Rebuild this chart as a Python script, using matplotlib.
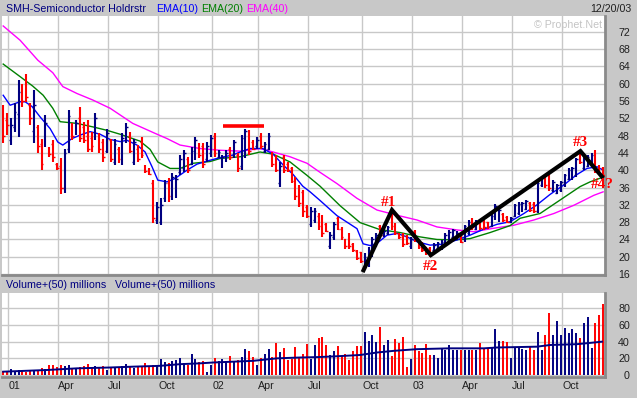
import matplotlib
matplotlib.use("Agg")
import matplotlib.pyplot as plt
import pandas as pd

plt.rcParams['font.family'] = ['Liberation Sans', 'DejaVu Sans']

# weekly bars, week ending Friday
dates = pd.date_range('2000-12-22', periods=157, freq='W-FRI')

highs = [55.0, 53.1, 52.0, 55.4, 60.8, 60.0, 62.3, 55.4, 58.5, 50.4, 47.3, 52.7, 45.4, 46.9, 41.6, 42.7,
         45.0, 53.9, 50.8, 51.6, 54.7, 51.2, 51.6, 48.9, 53.1, 48.5, 47.3, 49.5, 47.2, 47.3, 45.4, 48.5,
         50.8, 48.9, 47.3, 45.8, 47.7, 41.2, 40.4, 37.7, 32.7, 33.5, 37.7, 38.1, 39.3, 38.9, 43.5, 44.6,
         43.1, 45.4, 47.7, 46.2, 46.2, 46.5, 48.1, 48.5, 44.7, 43.5, 44.6, 45.4, 46.9, 43.9, 48.1, 49.6,
         49.3, 46.9, 47.7, 48.5, 46.5, 48.5, 44.3, 43.5, 41.9, 43.5, 41.9, 40.8, 38.5, 36.6, 35.5, 31.9,
         31.5, 31.2, 30.0, 29.6, 27.7, 25.8, 28.1, 29.2, 26.9, 24.2, 25.4, 23.1, 21.5, 21.2, 20.8, 22.3,
         24.6, 25.4, 27.3, 26.5, 27.0, 30.8, 27.7, 25.4, 25.4, 25.0, 24.6, 26.2, 23.9, 23.5, 22.3, 22.3,
         23.1, 23.5, 23.9, 25.4, 26.2, 26.5, 26.0, 25.4, 27.3, 28.5, 28.9, 28.5, 28.1, 28.5, 28.1, 30.0,
         32.3, 31.2, 30.0, 29.5, 29.2, 32.3, 32.7, 32.7, 33.1, 32.7, 32.7, 37.3, 38.5, 38.5, 38.8, 37.7,
         36.9, 37.5, 39.2, 40.4, 40.8, 42.7, 44.3, 43.9, 43.5, 43.9, 44.6, 41.2, 40.8]
lows = [46.2, 48.1, 45.8, 48.9, 47.7, 54.7, 55.8, 50.4, 46.2, 43.9, 40.0, 45.4, 43.1, 41.9, 40.0, 34.6,
        34.8, 43.9, 46.9, 48.1, 46.6, 46.2, 44.3, 44.3, 46.9, 43.9, 41.9, 44.0, 41.8, 41.2, 41.6, 41.2,
        46.2, 43.9, 41.2, 41.9, 42.7, 39.3, 38.9, 27.7, 27.5, 27.3, 32.7, 32.7, 33.1, 33.5, 38.9, 39.6,
        39.3, 41.2, 42.3, 42.7, 40.4, 42.0, 43.1, 43.1, 42.7, 40.4, 41.9, 42.3, 42.7, 39.6, 40.0, 42.7,
        43.5, 44.6, 45.0, 45.0, 43.9, 44.6, 40.8, 39.6, 36.2, 39.3, 39.6, 37.0, 33.1, 31.6, 29.2, 28.9,
        26.9, 27.7, 26.2, 24.6, 25.8, 21.9, 23.9, 26.2, 23.9, 21.9, 21.9, 21.2, 19.2, 18.5, 16.9, 17.7,
        20.0, 22.3, 24.6, 24.5, 25.0, 26.2, 25.0, 24.2, 22.3, 22.7, 21.9, 23.5, 21.9, 21.2, 20.4, 20.0,
        21.2, 21.5, 21.5, 22.3, 23.1, 23.9, 23.9, 23.1, 23.5, 25.0, 26.2, 26.2, 26.2, 26.2, 26.5, 26.9,
        28.5, 28.1, 28.1, 27.7, 27.7, 29.2, 29.6, 30.4, 30.8, 30.4, 30.0, 30.0, 36.2, 36.0, 35.3, 35.0,
        34.4, 35.0, 36.2, 37.7, 37.7, 38.5, 41.5, 40.0, 40.8, 41.2, 39.3, 38.8, 38.5]
opens = [53.0, 51.5, 47.0, 50.0, 53.0, 58.5, 61.0, 55.0, 49.0, 50.0, 46.0, 46.0, 45.0, 46.0, 41.5, 41.0,
         36.0, 45.0, 50.5, 48.5, 52.0, 50.0, 48.0, 47.5, 47.5, 48.0, 46.5, 44.5, 47.0, 42.0, 45.0, 42.5,
         47.0, 48.0, 42.0, 45.0, 46.5, 41.0, 40.2, 37.0, 28.5, 28.0, 33.5, 37.0, 34.0, 34.5, 39.5, 40.5,
         42.5, 41.5, 43.0, 46.0, 45.5, 42.5, 44.0, 48.0, 43.0, 41.0, 42.5, 45.0, 43.5, 43.5, 41.0, 44.0,
         48.5, 46.5, 45.5, 48.0, 44.5, 45.0, 44.0, 43.0, 37.0, 43.0, 41.5, 40.5, 38.0, 36.0, 35.0, 31.5,
         27.5, 28.5, 29.5, 29.0, 27.5, 22.5, 24.5, 29.0, 26.5, 24.0, 25.0, 23.0, 21.3, 21.0, 17.5, 18.5,
         21.0, 23.0, 27.0, 25.0, 25.5, 30.0, 27.5, 25.2, 25.0, 24.8, 22.5, 26.0, 23.8, 23.3, 22.2, 22.0,
         21.5, 22.0, 22.0, 22.8, 23.5, 24.5, 24.2, 25.2, 24.0, 25.5, 28.5, 26.5, 28.0, 28.2, 28.0, 27.2,
         29.0, 28.5, 29.8, 29.2, 28.0, 29.5, 30.0, 30.8, 31.0, 32.5, 32.3, 30.5, 36.5, 38.2, 38.5, 35.5,
         34.8, 35.5, 36.8, 38.0, 38.2, 39.0, 44.0, 40.5, 41.0, 41.5, 44.0, 41.0, 40.5]
closes = [48.0, 50.5, 50.5, 53.5, 58.0, 56.0, 57.0, 52.0, 55.0, 45.5, 41.5, 51.0, 43.8, 43.0, 40.5, 36.0,
          44.0, 52.5, 48.0, 51.0, 47.5, 47.0, 45.0, 45.5, 52.0, 45.0, 43.0, 48.5, 42.5, 46.0, 42.5, 47.5,
          50.0, 44.5, 46.5, 42.5, 43.5, 39.8, 39.2, 29.0, 31.5, 32.0, 37.0, 34.0, 38.5, 38.0, 42.5, 44.0,
          40.0, 44.5, 47.0, 43.5, 41.5, 45.5, 47.5, 44.0, 44.3, 43.0, 44.0, 43.0, 46.5, 40.5, 47.5, 49.0,
          44.5, 45.0, 47.0, 45.5, 46.0, 48.0, 41.5, 40.0, 41.0, 40.0, 40.0, 37.5, 34.0, 32.5, 30.5, 29.5,
          30.5, 30.5, 27.0, 25.5, 26.0, 25.0, 27.5, 26.5, 24.5, 22.5, 22.5, 21.5, 19.8, 19.0, 20.0, 21.5,
          24.0, 25.0, 25.0, 26.0, 26.8, 27.0, 25.5, 24.5, 23.0, 23.2, 24.2, 24.0, 22.2, 21.6, 20.8, 20.5,
          22.8, 23.2, 23.5, 25.0, 25.8, 26.2, 25.6, 23.5, 27.0, 28.0, 26.8, 28.0, 26.6, 26.8, 26.8, 29.5,
          31.8, 30.8, 28.5, 28.0, 29.0, 32.0, 32.2, 32.5, 32.8, 30.8, 30.5, 37.0, 38.2, 36.5, 35.8, 37.3,
          36.5, 37.2, 39.0, 40.0, 40.5, 42.5, 42.0, 43.5, 43.0, 43.5, 40.0, 39.2, 39.0]

volume = [4.8, 4.0, 7.2, 5.2, 6.0, 4.8, 4.0, 4.8, 6.0, 4.8, 8.8, 6.8,
          12, 12, 10, 12, 10.8, 12, 8, 7.2, 10, 10.8, 12.8, 10, 10.8, 10, 11.2, 6, 8.8,
          9.2, 10, 11.2, 12.8, 10, 8, 10, 10.8, 14.8, 10, 12, 11,
          19.2, 15.6, 14.4, 16.4, 18.4, 20.4, 14.4, 12, 25.6, 19.2, 16, 16.4, 3.2, 12,
          20.8, 16.4, 19.2, 16.4, 22.8, 17.2, 18, 22, 30.8, 29.2, 21.2, 12, 20.4, 25,
          30.8, 22, 38.8, 28, 32, 18, 18.8, 33.2, 20.4, 25.6, 37.6, 19.2, 36, 44,
          46, 36, 24, 29, 35, 23, 25, 18, 29, 35, 35, 52, 41, 48, 40, 58, 36, 42, 23, 43,
          38, 46, 10, 19, 36, 29, 26, 37, 24, 24, 20, 33, 30, 36, 30, 30, 30, 30, 30, 30,
          30, 38, 32, 31, 33, 55, 41, 41, 40, 20, 33, 33, 31, 30, 35, 30, 52, 30, 48, 75,
          48, 65, 48, 57, 50, 55, 50, 45, 63, 70, 33, 62, 72, 85]

# moving averages (week index, value)
ema10_wk = [0, 1.8, 4.4, 5.7, 7.5, 9.6, 12.2, 14.2, 15.5, 17.9, 20.0, 22.6, 25.2, 27.8, 30.4, 32.2, 34.8,
            36.9, 38.7, 40.2, 42.6, 44.7, 47.8, 50.4, 53.8, 56.4, 59.7, 61.6, 64.2, 67.5, 70.2, 72.8, 75.4,
            77.9, 79.8, 82.4, 86.8, 92.0, 93.6, 95.4, 97.2, 99.8, 102.4, 105.0, 107.6, 111.0, 114.4, 118.0,
            121.4, 125.0, 128.4, 131.8, 135.4, 138.8, 142.2, 145.8, 149.2, 151.8, 154.4, 156]
ema10 = [57.3, 55.0, 55.8, 55.8, 54.7, 52.3, 49.6, 46.5, 45.8, 47.3, 48.1, 48.9, 48.3, 47.1, 46.6, 46.9, 45.8,
         44.2, 40.8, 37.7, 37.3, 38.1, 40.0, 41.4, 42.3, 42.9, 43.5, 44.2, 45.0, 45.0, 43.7, 41.2, 39.0,
         36.3, 35.0, 33.0, 29.5, 26.5, 23.0, 22.6, 23.1, 25.0, 25.4, 24.6, 23.5, 22.7, 22.9, 23.9,
         25.0, 26.4, 27.5, 28.1, 30.0, 32.0, 34.4, 36.6, 39.0, 40.4, 40.8, 40.0]
ema20_wk = [0, 4.4, 7.7, 10.4, 12.9, 14.8, 19.2, 23.3, 27.0, 30.4, 35.6, 38.2, 40.2, 43.4, 46.0, 49.4, 53.8,
            56.4, 61.6, 66.8, 70.2, 74.6, 79.0, 82.4, 87.6, 92.8, 97.9, 103.2, 108.4, 112.8, 117.5, 121.4,
            126.6, 131.8, 134.4, 139.6, 144.8, 150.0, 152.6, 155.7]
ema20 = [64.5, 61.6, 59.4, 57.3, 54.3, 51.2, 50.8, 50.0, 49.2, 48.3, 46.7, 44.8, 41.9, 40.4, 40.4, 41.6, 42.0,
         42.7, 43.1, 44.2, 43.7, 41.9, 38.8, 36.3, 31.8, 27.9, 26.3, 25.6, 24.6, 24.0, 23.9, 24.2,
         25.6, 27.2, 28.9, 30.0, 33.1, 36.2, 37.3, 38.3]
ema40_wk = [0, 4.4, 9.0, 12.9, 15.5, 19.2, 23.3, 27.8, 33.7, 39.5, 42.6, 46.0, 51.2, 56.4, 61.6, 66.8, 70.2,
            74.6, 79.0, 82.4, 86.8, 92.0, 97.2, 102.4, 107.6, 112.8, 118.0, 122.4, 127.6, 132.8, 138.0,
            143.2, 148.4, 153.6, 156]
ema40 = [73.3, 70.0, 65.4, 62.5, 59.3, 57.7, 56.2, 54.3, 50.8, 48.5, 47.3, 45.8, 45.0, 44.6, 44.4, 45.0, 44.2,
         43.1, 41.6, 39.5, 36.9, 33.5, 30.8, 29.6, 28.5, 26.9, 26.2, 25.8, 26.6, 27.3, 28.5,
         30.0, 31.9, 34.2, 35.0]
volavg_wk = [0, 11.4, 19.2, 27.8, 33.7, 40.8, 46.0, 51.2, 54.6, 59.8, 65.0, 71.2, 77.2, 81.9, 86.8, 92.8,
             97.2, 101.6, 107.6, 116.2, 125.0, 128.4, 138.8, 142.2, 149.2, 152.6, 155.7]
volavg = [4, 6, 8, 9, 10, 11, 13, 14, 15, 16, 17, 20, 21, 21.5, 22.5, 24, 27, 29, 31, 32, 32, 33, 34, 36,
          37, 38.5, 40]

# hand-drawn pattern on the chart
zig_wk = [93.7, 101.1, 111.2, 150.1, 155.7]
zig_px = [16.9, 30.8, 20.4, 44.4, 38.5]
zig_labels = ['#1', '#2', '#3', '#4?']
resist_level = 50.2
resist_wk = [57.2, 67.8]

price_ticks = list(range(16, 73, 4))
vol_ticks = [0, 20, 40, 60, 80]

BG = '#c8c8c8'
GRID = '#c8c8c8'
RED = '#ff0000'
NAVY = '#000080'
FS = 7.7

n = len(dates)
idx = list(range(n))
cols = [NAVY if c >= o else RED for o, c in zip(opens, closes)]

# quarter gridlines: first week whose Monday falls in Jan/Apr/Jul/Oct
mondays = dates - pd.Timedelta(days=4)
tick_pos, tick_lab = [], []
for i in range(1, n):
    m = mondays[i].month
    if m != mondays[i - 1].month and m in (1, 4, 7, 10):
        tick_pos.append(i - 0.65)
        tick_lab.append(mondays[i].strftime('%y') if m == 1 else mondays[i].strftime('%b'))

W, H = 637, 398
fig = plt.figure(figsize=(W / 100, H / 100), dpi=100)
fig.patch.set_facecolor(BG)

xlim = (-0.31, 156.49)

ax = fig.add_axes([2 / W, 1 - 275 / H, 603 / W, 259 / H])
axv = fig.add_axes([2 / W, 1 - 377 / H, 603 / W, 84 / H])

for a in (ax, axv):
    a.set_facecolor('white')
    a.set_xlim(*xlim)
    a.set_xticks(tick_pos)
    a.grid(True, color=GRID, lw=1.0)
    a.set_axisbelow(True)
    a.yaxis.tick_right()
    a.tick_params(axis='both', length=0, labelsize=FS, colors='#202020')
    for s in ('top', 'left'):
        a.spines[s].set_visible(False)
    for s in ('right', 'bottom'):
        a.spines[s].set_color('#8a8a8a')
        a.spines[s].set_linewidth(2.0)

# price panel
ax.set_ylim(15.8, 75.6)
ax.set_yticks(price_ticks)
ax.set_yticklabels([str(v) for v in price_ticks], ha='right')
ax.tick_params(axis='y', pad=18)
ax.set_xticklabels([])

ax.plot(ema40_wk, ema40, color='#ff00ff', lw=1.0, zorder=2)
ax.plot(ema20_wk, ema20, color='#008000', lw=1.0, zorder=2)
ax.plot(ema10_wk, ema10, color='#0000ff', lw=1.0, zorder=2)

ax.vlines(idx, lows, highs, colors=cols, lw=1.5, zorder=3)
ax.hlines(opens, [i - 0.45 for i in idx], idx, colors=cols, lw=1.0, zorder=3)
ax.hlines(closes, idx, [i + 0.45 for i in idx], colors=cols, lw=1.0, zorder=3)

ax.hlines(resist_level, resist_wk[0], resist_wk[1], colors=RED, lw=2.6, zorder=4)
ax.plot(zig_wk, zig_px, color='black', lw=3.0, zorder=5, solid_joinstyle='miter')

lab_kw = dict(color=RED, fontsize=11, fontweight='bold', family='Liberation Serif',
              ha='center', va='center', zorder=6, clip_on=False)
ax.text(100.3, 32.6, zig_labels[0], **lab_kw)
ax.text(111.2, 17.8, zig_labels[1], **lab_kw)
ax.text(150.0, 46.4, zig_labels[2], **lab_kw)
ax.text(155.8, 36.8, zig_labels[3], **lab_kw)

ax.text(0.995, 0.985, '\u00a9 Prophet.Net', transform=ax.transAxes, ha='right', va='top',
        fontsize=FS, color='#c4c4c4')

# volume panel
axv.set_ylim(-2.4, 98.4)
axv.set_yticks(vol_ticks)
axv.set_yticklabels([str(v) for v in vol_ticks], ha='right')
axv.tick_params(axis='y', pad=18)
axv.vlines(idx, 0, volume, colors=cols, lw=1.4, zorder=3)
axv.plot(volavg_wk, volavg, color=NAVY, lw=1.4, zorder=4)
axv.set_xticklabels(tick_lab, ha='left')
axv.tick_params(axis='x', pad=3)

# header strips
hy = 1 - 8.5 / H
fig.text(6 / W, hy, 'SMH-Semiconductor Holdrstr', color=NAVY, fontsize=FS, va='center')
fig.text(156 / W, hy, 'EMA(10)', color='#0000ff', fontsize=FS, va='center')
fig.text(201 / W, hy, 'EMA(20)', color='#008000', fontsize=FS, va='center')
fig.text(246 / W, hy, 'EMA(40)', color='#ff00ff', fontsize=FS, va='center')
fig.text(631 / W, hy, '12/20/03', color='#202020', fontsize=FS, va='center', ha='right')
vy = 1 - 284.5 / H
fig.text(6 / W, vy, 'Volume+(50) millions', color=NAVY, fontsize=FS, va='center')
fig.text(115 / W, vy, 'Volume+(50) millions', color=NAVY, fontsize=FS, va='center')

fig.savefig('out.png', dpi=100, facecolor=BG)
